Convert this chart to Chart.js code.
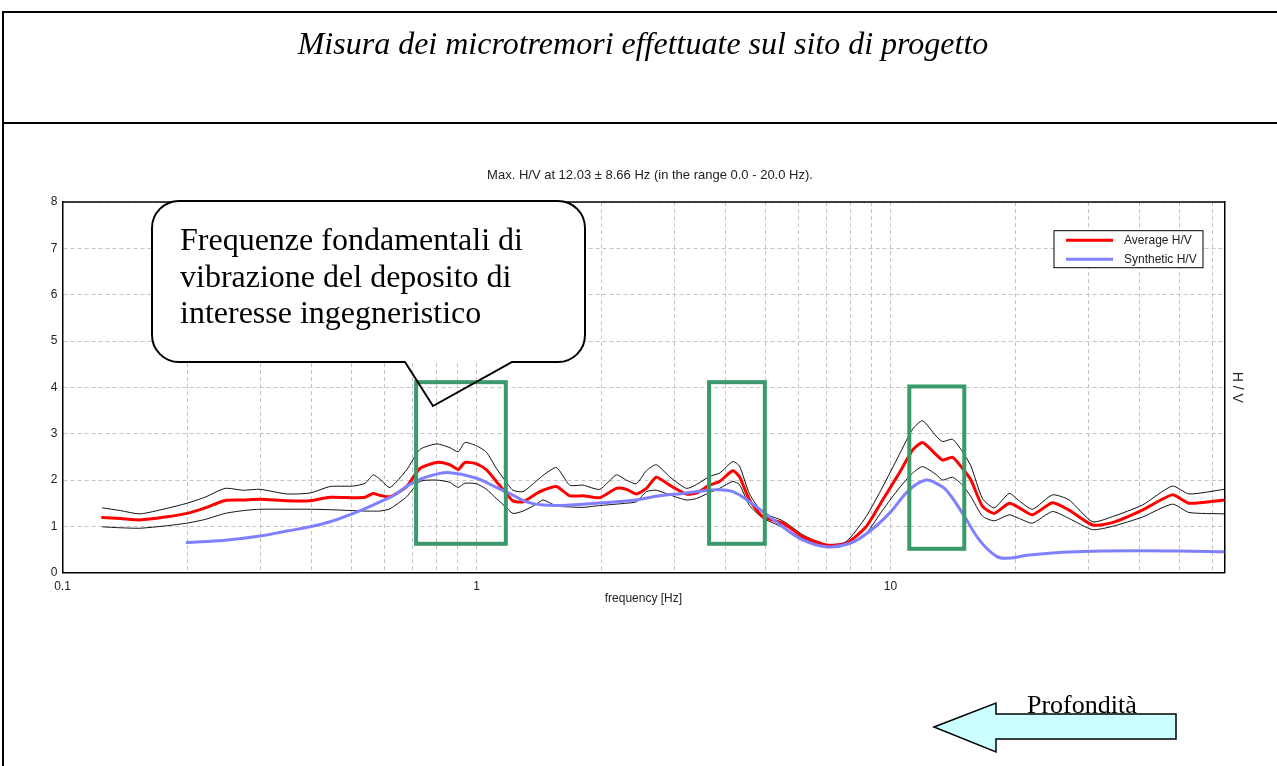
<!DOCTYPE html>
<html lang="it">
<head>
<meta charset="utf-8">
<title>Misura dei microtremori</title>
<script src="https://cdn.jsdelivr.net/npm/chart.js@4.4.1/dist/chart.umd.min.js"></script>
<style>
html,body{margin:0;padding:0;background:#fff;}
#wrap{position:relative;width:1277px;height:766px;overflow:hidden;}
#c{position:absolute;left:0;top:0;}
#deco{position:absolute;left:0;top:0;pointer-events:none;}
</style>
</head>
<body>
<div id="wrap">
<canvas id="c" width="1277" height="766"></canvas>
<svg id="deco" width="1277" height="766" viewBox="0 0 1277 766" xmlns="http://www.w3.org/2000/svg">
  <g stroke="#000" stroke-width="2" fill="none">
    <line x1="2" y1="12" x2="1277" y2="12"/>
    <line x1="3" y1="11" x2="3" y2="766"/>
    <line x1="2" y1="123" x2="1277" y2="123"/>
  </g>
  <text x="643" y="54" text-anchor="middle" font-family="'Liberation Serif','Times New Roman',serif" font-style="italic" font-size="32">Misura dei microtremori effettuate sul sito di progetto</text>
  <!-- callout: white body, open tail -->
  <path d="M179,201 H558 A27,27 0 0 1 585,228 V335 A27,27 0 0 1 558,362 H179 A27,27 0 0 1 152,335 V228 A27,27 0 0 1 179,201 Z" fill="#fff"/>
  <path d="M179,201 H558 A27,27 0 0 1 585,228 V335 A27,27 0 0 1 558,362 H512 L433,406 L405,362 H179 A27,27 0 0 1 152,335 V228 A27,27 0 0 1 179,201 Z" fill="none" stroke="#000" stroke-width="2"/>
  <g font-family="'Liberation Serif','Times New Roman',serif" font-size="32" fill="#000">
    <text x="180" y="250">Frequenze fondamentali di</text>
    <text x="180" y="287">vibrazione del deposito di</text>
    <text x="180" y="323">interesse ingegneristico</text>
  </g>
  <polygon points="934,727 996,703 996,714 1176,714 1176,739 996,739 996,752" fill="#ccffff" stroke="#000" stroke-width="1.5"/>
  <text x="1027" y="713" font-family="'Liberation Serif','Times New Roman',serif" font-size="26">Profondità</text>
</svg>
</div>
<script>
// H/V spectra (frequency in Hz)
const freq = [0.125,0.138,0.154,0.177,0.200,0.221,0.247,0.273,0.300,0.348,0.396,0.443,0.504,0.538,0.563,0.584,0.618,0.678,0.730,0.801,
  0.862,0.903,0.937,1.000,1.057,1.117,1.170,1.224,1.295,1.396,1.448,1.560,1.679,1.807,1.984,2.177,2.300,2.432,2.572,2.718,
  2.927,3.212,3.395,3.655,3.864,4.160,4.318,4.564,4.914,5.492,6.138,6.989,7.811,8.729,9.570,10.50,11.31,11.95,12.88,13.36,
  14.12,14.93,15.64,16.68,17.80,19.35,20.46,22.02,24.61,27.00,30.73,34.35,40.57,47.93,52.60,64];
const avgHV = [1.19,1.17,1.14,1.20,1.28,1.40,1.56,1.57,1.585,1.555,1.555,1.63,1.62,1.63,1.71,1.67,1.64,1.86,2.25,2.38,
  2.33,2.23,2.38,2.35,2.22,1.97,1.75,1.55,1.53,1.71,1.78,1.86,1.66,1.66,1.62,1.82,1.80,1.70,1.82,2.06,
  1.89,1.70,1.72,1.89,1.97,2.20,2.07,1.57,1.21,1.07,0.78,0.60,0.63,0.99,1.57,2.15,2.65,2.81,2.55,2.43,
  2.49,2.25,2.00,1.43,1.28,1.50,1.40,1.25,1.51,1.35,1.03,1.08,1.35,1.68,1.50,1.57];
const upperHV = [1.40,1.34,1.27,1.38,1.50,1.63,1.82,1.78,1.80,1.70,1.72,1.86,1.87,1.93,2.11,2.02,1.84,2.22,2.66,2.78,
  2.70,2.61,2.81,2.74,2.60,2.25,2.00,1.78,1.75,1.98,2.10,2.27,1.89,1.89,1.80,2.11,2.00,1.92,2.20,2.33,
  2.07,1.82,1.90,2.08,2.15,2.40,2.30,1.70,1.30,1.12,0.82,0.60,0.67,1.21,1.85,2.55,3.10,3.28,2.95,2.83,
  2.88,2.61,2.30,1.60,1.40,1.71,1.55,1.37,1.68,1.57,1.10,1.21,1.46,1.87,1.70,1.80];
const lowerHV = [0.99,0.97,0.96,1.01,1.07,1.15,1.28,1.34,1.37,1.37,1.37,1.36,1.34,1.33,1.33,1.33,1.38,1.64,1.97,2.00,
  1.95,1.84,1.93,1.92,1.80,1.60,1.44,1.28,1.33,1.48,1.57,1.44,1.42,1.41,1.45,1.48,1.50,1.53,1.75,1.78,
  1.68,1.57,1.60,1.73,1.82,1.97,1.90,1.45,1.18,0.98,0.74,0.57,0.60,0.85,1.35,1.83,2.15,2.29,2.12,2.00,
  2.06,1.89,1.64,1.22,1.12,1.25,1.17,1.07,1.32,1.17,0.93,1.00,1.20,1.48,1.30,1.27];

const synFreq = [0.200,0.247,0.300,0.348,0.396,0.443,0.504,0.553,0.584,0.629,0.703,0.786,0.862,1.000,1.117,1.203,1.320,1.448,1.679,2.020,
  2.432,2.768,3.150,3.793,4.160,4.564,4.914,5.492,6.138,6.989,7.958,8.890,9.930,11.10,12.18,12.88,13.61,14.93,16.38,17.97,
  18.99,21.62,26.02,32.49,49.74,64];
const synHV = [0.65,0.70,0.79,0.90,0.99,1.10,1.28,1.43,1.53,1.66,1.95,2.11,2.16,2.04,1.84,1.71,1.53,1.46,1.46,1.51,
  1.57,1.66,1.71,1.79,1.75,1.53,1.32,0.99,0.71,0.56,0.63,0.89,1.28,1.79,2.00,1.93,1.79,1.28,0.71,0.36,
  0.31,0.38,0.44,0.47,0.47,0.45];

// x grid at 1..9 per decade, labels only on decades
const xDecades = [0.1, 1, 10];
const xLabels = ['0.1', '1', '10'];
const yTicks = [0,1,2,3,4,5,6,7,8];

// highlighted frequency bands [fmin, fmax, hvMin, hvMax]
const bands = [[0.7146,1.177,0.624,4.113],[3.645,4.970,0.624,4.113],[11.10,15.07,0.516,4.02]];

const pts = (xs, ys) => xs.map((x, i) => ({x: x, y: ys[i]}));

const xTicks = [];
xDecades.forEach(d => { for (let k = 1; k <= 9; k++) { const v = +(k*d).toFixed(2); if (v < 64) xTicks.push(v); } });

const bandBoxes = {
  id: 'bandBoxes',
  afterDatasetsDraw(chart) {
    const {ctx, scales: {x, y}} = chart;
    ctx.save();
    ctx.strokeStyle = '#3a9a6c';
    ctx.lineWidth = 4;
    bands.forEach(b => {
      const x0 = x.getPixelForValue(b[0]), x1 = x.getPixelForValue(b[1]);
      const y0 = y.getPixelForValue(b[3]), y1 = y.getPixelForValue(b[2]);
      ctx.strokeRect(x0, y0, x1 - x0, y1 - y0);
    });
    ctx.restore();
  }
};

const frameAndLegend = {
  id: 'frameAndLegend',
  afterDatasetsDraw(chart) {
    const {ctx, chartArea: a} = chart;
    ctx.save();
    ctx.strokeStyle = '#000';
    ctx.lineWidth = 1.5;
    ctx.beginPath();
    ctx.moveTo(a.left, a.top); ctx.lineTo(a.right, a.top);
    ctx.stroke();

    const items = chart.data.datasets.filter(d => d.inLegend);
    const w = 149, h = 37;
    const x0 = a.right - 21.3 - w, y0 = a.top + 28.6;
    ctx.fillStyle = '#fff';
    ctx.fillRect(x0, y0, w, h);
    ctx.lineWidth = 1;
    ctx.strokeRect(x0, y0, w, h);
    ctx.font = '12px "Liberation Sans", Arial, sans-serif';
    ctx.textBaseline = 'middle';
    items.forEach((d, i) => {
      const yy = y0 + 9.5 + i * 19;
      ctx.strokeStyle = d.borderColor;
      ctx.lineWidth = 3;
      ctx.beginPath(); ctx.moveTo(x0 + 12, yy); ctx.lineTo(x0 + 59, yy); ctx.stroke();
      ctx.fillStyle = '#222';
      ctx.fillText(d.label, x0 + 70, yy);
    });
    ctx.restore();
  }
};

Chart.defaults.font.family = '"Liberation Sans", Arial, sans-serif';
Chart.defaults.color = '#222';

new Chart(document.getElementById('c'), {
  type: 'line',
  data: {
    datasets: [
      {label: 'Average H/V', data: pts(freq, avgHV), borderColor: '#ff0000', borderWidth: 3, tension: 0.2, order: 1, inLegend: true},
      {label: 'Synthetic H/V', data: pts(synFreq, synHV), borderColor: '#8080ff', borderWidth: 3, tension: 0.4, order: 0, inLegend: true},
      {label: 'Average + std', data: pts(freq, upperHV), borderColor: '#111', borderWidth: 1, tension: 0.2, order: 2},
      {label: 'Average - std', data: pts(freq, lowerHV), borderColor: '#111', borderWidth: 1, tension: 0.2, order: 2}
    ]
  },
  options: {
    responsive: false,
    animation: false,
    events: [],
    elements: {point: {radius: 0}, line: {borderJoinStyle: 'round', borderCapStyle: 'round'}},
    layout: {padding: {top: 167.5, left: 23, right: 0, bottom: 157.3}},
    plugins: {
      legend: {display: false},
      tooltip: {enabled: false},
      title: {
        display: true,
        text: 'Max. H/V at 12.03 ± 8.66 Hz (in the range 0.0 - 20.0 Hz).',
        font: {size: 13, weight: 'normal'},
        color: '#222',
        padding: {top: 0, bottom: 19}
      }
    },
    scales: {
      x: {
        type: 'logarithmic', min: 0.1, max: 64,
        afterBuildTicks(s) { s.ticks = xTicks.map(v => ({value: v})); },
        afterFit(s) { s.height = 36; },
        ticks: {
          autoSkip: false, maxRotation: 0, padding: 7, font: {size: 12},
          callback(v) { const i = xDecades.indexOf(v); return i >= 0 ? xLabels[i] : ''; }
        },
        grid: {color: '#c4c4c4', lineWidth: 1, drawTicks: false},
        border: {color: '#000', width: 1.5, dash: [4, 3]},
        title: {display: true, text: 'frequency [Hz]', font: {size: 12}, padding: {top: 0, bottom: 3}}
      },
      y: {
        min: 0, max: 8,
        afterBuildTicks(s) { s.ticks = yTicks.map(v => ({value: v})); },
        afterFit(s) { s.width = 39.5; },
        ticks: {padding: 5, font: {size: 12}},
        grid: {color: '#c4c4c4', lineWidth: 1, drawTicks: false},
        border: {color: '#000', width: 1.5, dash: [4, 3]}
      },
      y2: {
        position: 'right', min: 0, max: 8,
        afterFit(s) { s.width = 52.7; },
        ticks: {display: false},
        grid: {display: false},
        border: {color: '#000', width: 1.5},
        title: {display: true, text: 'H / V', font: {size: 14}, padding: {top: 31.6}}
      }
    }
  },
  plugins: [bandBoxes, frameAndLegend]
});
</script>
</body>
</html>
